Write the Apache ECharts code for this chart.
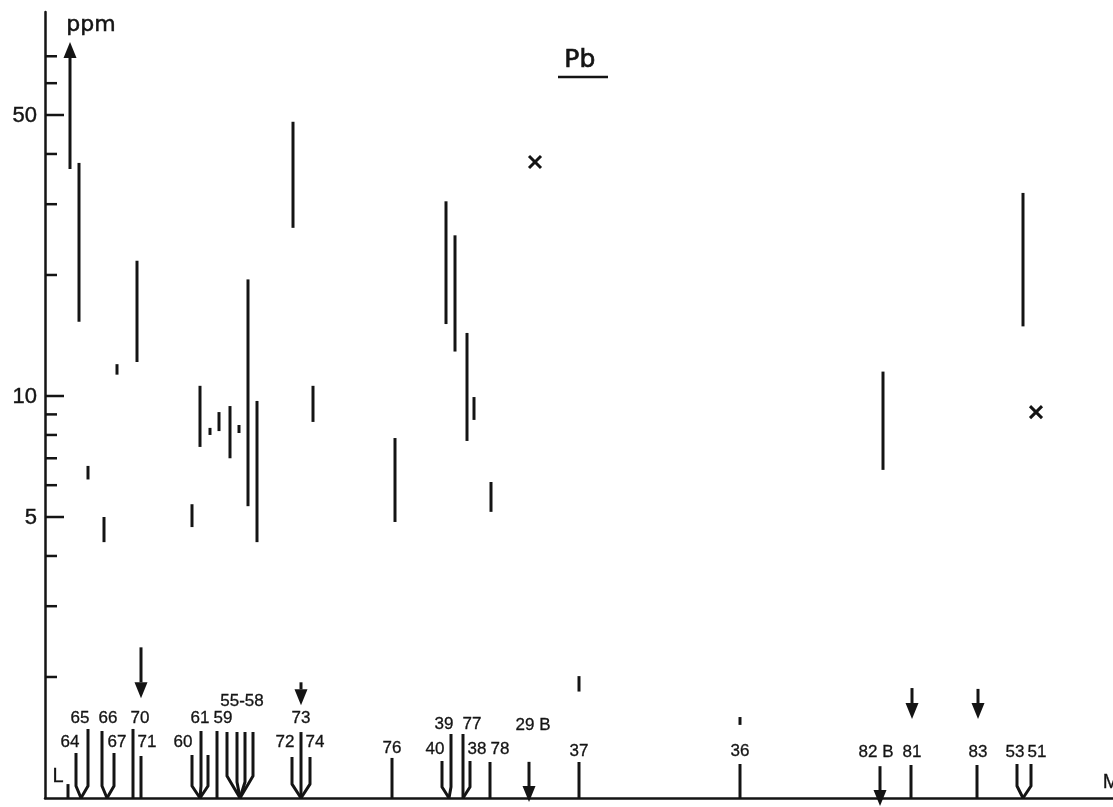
<!DOCTYPE html>
<html><head><meta charset="utf-8">
<script src="https://cdn.jsdelivr.net/npm/echarts@6/dist/echarts.min.js"></script>
<style>html,body{margin:0;padding:0;background:#fff}#c{width:1113px;height:807px}</style>
</head><body><div id="c"></div>
<script>
// Pb concentration ranges per sample: [position along profile, low ppm, high ppm]
const ranges = [
  [34, 15.3, 38.0], [43, 6.2, 6.7], [59, 4.33, 5.0], [72, 11.3, 12.0], [92, 12.15, 21.7],
  [147, 4.72, 5.38], [155, 7.47, 10.6], [165, 8.0, 8.33], [174, 8.18, 9.12], [185, 7.0, 9.44],
  [194, 8.09, 8.47], [203, 5.32, 19.5], [212, 4.33, 9.72], [248, 26.2, 48.1], [268, 8.62, 10.6],
  [350, 4.86, 7.86], [401, 15.1, 30.5], [410, 12.9, 25.1], [422, 7.73, 14.35], [429, 8.72, 9.94],
  [446, 5.15, 6.11], [534, 1.84, 2.01], [695, 1.52, 1.59], [838, 6.55, 11.5], [978, 14.9, 32.0]
];
// single values marked with a cross: [position, ppm]
const crosses = [[490, 38.2], [991, 9.12]];
// arrows: [position, start ppm, tip ppm]
const arrowsUp = [[25, 36.7, 76]];
const arrowsDown = [[96, 2.37, 1.77], [256, 1.94, 1.70], [484, 1.23, 0.977], [835, 1.20, 0.955], [867, 1.877, 1.572], [933, 1.868, 1.572]];
// sample stems: [stem position, base position, top, knee]
const stems = [
  [23, 23, 1.083, null],
  [31, 36, 1.294, 1.071], [43, 36, 1.485, 1.071],
  [57, 62, 1.468, 1.071], [69, 62, 1.294, 1.071],
  [88, 88, 1.485, null], [96, 96, 1.272, null],
  [147, 155, 1.279, 1.071], [156, 155, 1.468, 1.071], [163, 155, 1.279, 1.071],
  [172, 172, 1.468, null],
  [182, 195, 1.459, 1.134], [192, 195, 1.459, 1.096], [200, 195, 1.459, 1.096], [208, 195, 1.459, 1.134],
  [247, 256, 1.265, 1.083], [256, 256, 1.459, null], [265, 256, 1.265, 1.083],
  [347, 347, 1.258, null],
  [397, 404, 1.236, 1.065], [406, 404, 1.443, 1.065],
  [418, 418, 1.443, null], [425, 418, 1.236, 1.065],
  [445, 445, 1.229, null], [534, 534, 1.229, null], [695, 695, 1.215, null],
  [866, 866, 1.208, null], [932, 932, 1.208, null],
  [972, 978, 1.215, 1.071], [986, 978, 1.215, 1.071]
];
// sample labels: [position, ppm level, text]
const sampleLabels = [
  [25, 1.378, '64'], [35, 1.581, '65'], [63, 1.581, '66'], [72, 1.378, '67'],
  [95, 1.581, '70'], [102, 1.378, '71'], [138, 1.378, '60'], [155, 1.581, '61'],
  [178, 1.581, '59'], [197, 1.743, '55-58'], [256, 1.581, '73'], [240, 1.378, '72'],
  [270, 1.378, '74'], [347, 1.332, '76'], [390, 1.324, '40'], [399, 1.527, '39'],
  [427, 1.527, '77'], [432, 1.324, '38'], [455, 1.324, '78'], [488, 1.519, '29 B'],
  [534, 1.309, '37'], [695, 1.309, '36'], [831, 1.302, '82 B'], [867, 1.302, '81'],
  [933, 1.302, '83'], [970, 1.302, '53'], [992, 1.302, '51']
];
const endLabels = [[13, 1.134, 'L'], [1066, 1.096, 'M']];
// y axis ticks: [ppm, major]
const yTicks = [[70,0],[60,0],[50,1],[40,0],[30,0],[20,0],[10,1],[9,0],[8,0],[7,0],[6,0],[5,1],[4,0],[3,0],[2,0]];
const yTickLabels = [[50,'50'],[10,'10'],[5,'5']];

const INK = '#141414';
const FONT = '"Liberation Sans", Arial, sans-serif';
const WIDE = '"DejaVu Sans", sans-serif';

const chart = echarts.init(document.getElementById('c'));
function arrowShape(api, x, from, to) {
  const a = api.coord([x, from]), t = api.coord([x, to]);
  const dir = t[1] > a[1] ? 1 : -1;
  const h = 16, w = 6.5;
  const by = t[1] - dir * h;
  return {type: 'group', children: [
    {type: 'line', shape: {x1: a[0], y1: a[1], x2: a[0], y2: by}, style: {stroke: INK, lineWidth: 3}},
    {type: 'polygon', shape: {points: [[t[0], t[1]], [t[0] - w, by], [t[0] + w, by]]}, style: {fill: INK}}
  ]};
}
chart.setOption({
  animation: false,
  grid: {left: 45, right: 0, top: 12, bottom: 9},
  xAxis: {type: 'value', min: 0, max: 1068,
    axisLine: {show: true, onZero: false, lineStyle: {color: INK, width: 2.5}},
    axisTick: {show: false}, axisLabel: {show: false}, splitLine: {show: false}},
  yAxis: {type: 'log', logBase: 10, min: 1, max: 90.2,
    axisLine: {show: true, onZero: false, lineStyle: {color: INK, width: 2.5}},
    axisTick: {show: false}, axisLabel: {show: false}, splitLine: {show: false}, minorTick: {show: false}},
  graphic: [
    {type: 'text', left: 564, top: 48, style: {text: 'Pb', font: '25px ' + WIDE, fill: INK, stroke: INK, lineWidth: 0.7}},
    {type: 'line', shape: {x1: 558, y1: 77, x2: 608, y2: 77}, style: {stroke: INK, lineWidth: 2.5}},
    {type: 'text', left: 66, top: 14, style: {text: 'ppm', font: '22px ' + WIDE, fill: INK, stroke: INK, lineWidth: 0.5}}
  ],
  series: [
    {type: 'custom', name: 'ranges', data: ranges, clip: false,
      renderItem: (p, api) => {
        const a = api.coord([api.value(0), api.value(1)]), b = api.coord([api.value(0), api.value(2)]);
        return {type: 'line', shape: {x1: a[0], y1: a[1], x2: b[0], y2: b[1]}, style: {stroke: INK, lineWidth: 3}};
      }},
    {type: 'custom', name: 'crosses', data: crosses, clip: false,
      renderItem: (p, api) => {
        const c = api.coord([api.value(0), api.value(1)]), s = 6;
        return {type: 'group', children: [
          {type: 'line', shape: {x1: c[0]-s, y1: c[1]-s, x2: c[0]+s, y2: c[1]+s}, style: {stroke: INK, lineWidth: 3}},
          {type: 'line', shape: {x1: c[0]-s, y1: c[1]+s, x2: c[0]+s, y2: c[1]-s}, style: {stroke: INK, lineWidth: 3}}
        ]};
      }},
    {type: 'custom', name: 'arrowsUp', data: arrowsUp, clip: false,
      renderItem: (p, api) => arrowShape(api, api.value(0), api.value(1), api.value(2))},
    {type: 'custom', name: 'arrowsDown', data: arrowsDown, clip: false,
      renderItem: (p, api) => arrowShape(api, api.value(0), api.value(1), api.value(2))},
    {type: 'custom', name: 'stems', data: stems.map(s => [s[0], s[1], s[2], s[3] == null ? '-' : s[3]]), clip: false,
      renderItem: (p, api) => {
        const st = stems[p.dataIndex];
        const top = api.coord([st[0], st[2]]);
        const base = api.coord([st[1], 1]);
        const pts = [top];
        if (st[3] != null) pts.push(api.coord([st[0], st[3]]));
        pts.push(st[3] != null ? base : [top[0], base[1]]);
        return {type: 'polyline', shape: {points: pts}, style: {stroke: INK, lineWidth: 3, fill: null, lineJoin: 'round'}};
      }},
    {type: 'custom', name: 'sampleLabels', data: sampleLabels, clip: false,
      renderItem: (p, api) => {
        const l = sampleLabels[p.dataIndex];
        const c = api.coord([l[0], l[1]]);
        return {type: 'text', x: c[0], y: c[1], style: {text: l[2], font: '17px ' + FONT, fill: INK, stroke: INK, lineWidth: 0.3, align: 'center', verticalAlign: 'middle'}};
      }},
    {type: 'custom', name: 'endLabels', data: endLabels, clip: false,
      renderItem: (p, api) => {
        const l = endLabels[p.dataIndex];
        const c = api.coord([l[0], l[1]]);
        return {type: 'text', x: c[0], y: c[1], style: {text: l[2], font: '20px ' + FONT, fill: INK, stroke: INK, lineWidth: 0.3, align: 'center', verticalAlign: 'middle'}};
      }},
    {type: 'custom', name: 'yTicks', data: yTicks, clip: false,
      renderItem: (p, api) => {
        const c = api.coord([0, api.value(0)]);
        const len = api.value(1) ? 19 : 12;
        return {type: 'line', shape: {x1: c[0], y1: c[1], x2: c[0] + len, y2: c[1]}, style: {stroke: INK, lineWidth: 2.5}};
      }},
    {type: 'custom', name: 'yTickLabels', data: yTickLabels, clip: false,
      renderItem: (p, api) => {
        const l = yTickLabels[p.dataIndex];
        const c = api.coord([0, l[0]]);
        return {type: 'text', x: c[0] - 8, y: c[1] + 1, style: {text: l[1], font: '22px ' + FONT, fill: INK, stroke: INK, lineWidth: 0.4, align: 'right', verticalAlign: 'middle'}};
      }}
  ]
});
</script></body></html>
